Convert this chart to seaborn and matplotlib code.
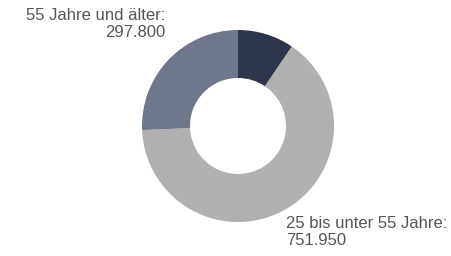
import matplotlib
matplotlib.use("Agg")
import matplotlib.pyplot as plt
import seaborn as sns

categories = ["unter 25 Jahre", "25 bis unter 55 Jahre", "55 Jahre und älter"]
values = [110000, 751950, 297800]
colors = ["#2e364d", "#b0b0b0", "#6e778b"]

sns.set_theme(style="white")
plt.rcParams['font.family'] = ['Liberation Sans', 'DejaVu Sans']

W, H = 451, 256
fig = plt.figure(figsize=(W / 100, H / 100), dpi=100)
cx, cy, r = 238, 126, 96
ax = fig.add_axes([(cx - r) / W, (H - cy - r) / H, 2 * r / W, 2 * r / H])
ax.pie(values, colors=colors, startangle=90, counterclock=False, radius=1,
       wedgeprops=dict(width=0.5, linewidth=0))
ax.set_xlim(-1, 1)
ax.set_ylim(-1, 1)
ax.set_aspect("equal")
ax.axis("off")

def fmt(v):
    return f"{v:,}".replace(",", ".")

txt_color = "#555555"
fig.text(165 / W, 1 - 8 / H, f"{categories[2]}:\n{fmt(values[2])}", ha="right", va="top",
         fontsize=12, color=txt_color, linespacing=1.2, multialignment="right")
fig.text(286 / W, 1 - 216 / H, f"{categories[1]}:\n{fmt(values[1])}", ha="left", va="top",
         fontsize=12, color=txt_color, linespacing=1.2, multialignment="left")

fig.savefig("out.png", dpi=100)
